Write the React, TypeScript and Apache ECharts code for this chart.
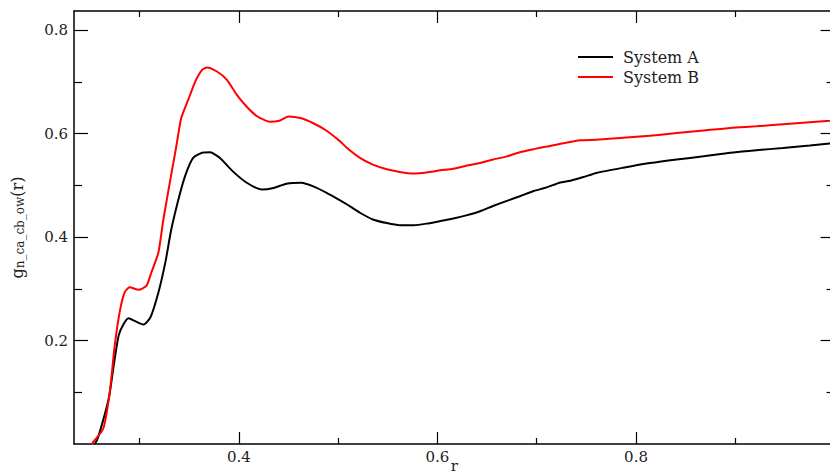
import React, { useEffect, useRef } from "react";
import * as echarts from "echarts";

const seriesNames = ["System A", "System B"];

// System A (black)
const rA = [
  0.255, 0.258, 0.269, 0.274, 0.279, 0.284, 0.289, 0.295, 0.304, 0.311, 0.319, 0.326, 0.332,
  0.341, 0.347, 0.354, 0.363, 0.371, 0.381, 0.394, 0.408, 0.423, 0.435, 0.448, 0.463, 0.475,
  0.488, 0.502, 0.509, 0.522, 0.535, 0.549, 0.562, 0.576, 0.589, 0.603, 0.616, 0.629, 0.643,
  0.656, 0.67, 0.683, 0.697, 0.71, 0.723, 0.734, 0.747, 0.76, 0.787, 0.814, 0.841, 0.868,
  0.895, 0.921, 0.948, 0.975, 0.995, 1.0,
];
const gA = [
  0.0, 0.011, 0.088, 0.152, 0.21, 0.232, 0.243, 0.238, 0.231, 0.245, 0.293, 0.351, 0.415,
  0.486, 0.524, 0.553, 0.563, 0.564, 0.553, 0.527, 0.505, 0.492, 0.495, 0.503, 0.505, 0.498,
  0.486, 0.471, 0.463, 0.447, 0.434, 0.427, 0.423, 0.423, 0.426, 0.431, 0.436, 0.442, 0.45,
  0.46, 0.47, 0.479, 0.489, 0.496, 0.505, 0.509, 0.516, 0.524, 0.534, 0.543, 0.55, 0.556,
  0.563, 0.568, 0.572, 0.577, 0.581, 0.582,
];

// System B (red)
const rB = [
  0.252, 0.2534, 0.2635, 0.27, 0.275, 0.28, 0.285, 0.29, 0.299, 0.307, 0.312, 0.319, 0.324,
  0.331, 0.337, 0.342, 0.349, 0.356, 0.363, 0.368, 0.378, 0.388, 0.398, 0.408, 0.418, 0.431,
  0.441, 0.45, 0.462, 0.475, 0.488, 0.502, 0.509, 0.522, 0.535, 0.549, 0.562, 0.576, 0.589,
  0.603, 0.616, 0.629, 0.643, 0.656, 0.67, 0.683, 0.697, 0.71, 0.723, 0.744, 0.76, 0.787,
  0.814, 0.841, 0.868, 0.895, 0.921, 0.948, 0.975, 0.995, 1.0,
];
const gB = [
  0.0, 0.004, 0.03, 0.1, 0.19, 0.255, 0.293, 0.303, 0.298, 0.306, 0.332, 0.37, 0.434,
  0.511, 0.575, 0.63, 0.665, 0.7, 0.723, 0.728, 0.72, 0.704, 0.675, 0.652, 0.634, 0.623,
  0.625, 0.633, 0.63, 0.62, 0.606, 0.585, 0.572, 0.553, 0.54, 0.531, 0.526, 0.523, 0.525,
  0.529, 0.532, 0.538, 0.543, 0.55, 0.556, 0.564, 0.57, 0.575, 0.58, 0.587, 0.588, 0.592,
  0.596, 0.601, 0.606, 0.611, 0.614, 0.618, 0.622, 0.625, 0.626,
];

const xMajorTicks = [0.4, 0.6, 0.8];
const xMinorTicks = [0.3, 0.5, 0.7, 0.9];
const yMajorTicks = [0.2, 0.4, 0.6, 0.8];
const yMinorTicks = [0.1, 0.3, 0.5, 0.7];
const xRange = [0.234, 1.0];
const yRange = [0, 0.837];

const FONT = "'DejaVu Serif', 'Liberation Serif', serif";
const TXT = "#222";

export default function App() {
  const ref = useRef<HTMLDivElement>(null);

  useEffect(() => {
    if (!ref.current) return;
    const chart = echarts.init(ref.current, undefined, { renderer: "svg" });
    const gridRect = {
      left: 74,
      top: 11,
      width: 760.6,
      height: 433,
      containLabel: false,
      outerBoundsMode: "none",
    };
    const line = { lineStyle: { color: "#000", width: 1.5 } };
    const tickStyle = { color: "#000", width: 1.2 };
    const fmt = (v: number) => v.toFixed(1);

    const mkX = (grid: number, pos: string, major: boolean, labels: boolean) => ({
      type: "value",
      gridIndex: grid,
      position: pos,
      min: xRange[0],
      max: xRange[1],
      axisLine: { show: major, onZero: false, ...line },
      axisTick: {
        show: true,
        inside: true,
        length: major ? 12 : 6,
        customValues: major ? xMajorTicks : xMinorTicks,
        lineStyle: tickStyle,
      },
      axisLabel: labels
        ? {
            show: true,
            customValues: xMajorTicks,
            formatter: fmt,
            margin: 5,
            fontSize: 15,
            fontFamily: FONT,
            color: TXT,
          }
        : { show: false },
      splitLine: { show: false },
    });

    const mkY = (grid: number, pos: string, major: boolean, labels: boolean) => ({
      type: "value",
      gridIndex: grid,
      position: pos,
      min: yRange[0],
      max: yRange[1],
      axisLine: { show: major, onZero: false, ...line },
      axisTick: {
        show: true,
        inside: true,
        length: major ? 14 : 8,
        customValues: major ? yMajorTicks : yMinorTicks,
        lineStyle: tickStyle,
      },
      axisLabel: labels
        ? {
            show: true,
            customValues: yMajorTicks,
            formatter: fmt,
            margin: 6,
            fontSize: 15,
            fontFamily: FONT,
            color: TXT,
          }
        : { show: false },
      splitLine: { show: false },
    });

    const xMain: any = mkX(0, "bottom", true, true);
    xMain.name = "r";
    xMain.nameLocation = "middle";
    xMain.nameGap = 14;
    xMain.nameMoveOverlap = false;
    xMain.nameTextStyle = { fontSize: 15, lineHeight: 15, fontFamily: FONT, color: TXT };

    const yMain: any = mkY(0, "left", true, true);
    yMain.name = "{g|g}{s|n_ca_cb_ow}{g|(r)}";
    yMain.nameLocation = "middle";
    yMain.nameRotate = 90;
    yMain.nameGap = 48;
    yMain.nameMoveOverlap = false;
    yMain.nameTextStyle = {
      fontFamily: FONT,
      color: TXT,
      rich: {
        g: { fontSize: 16, fontFamily: FONT, color: TXT, lineHeight: 17, verticalAlign: "top" },
        s: {
          fontSize: 12,
          fontFamily: FONT,
          color: TXT,
          lineHeight: 12,
          padding: [9, 0, 0, 0],
          verticalAlign: "bottom",
        },
      },
    };

    const option: any = {
      animation: false,
      backgroundColor: "#fff",
      grid: [{ ...gridRect }, { ...gridRect }],
      legend: {
        orient: "vertical",
        left: 573,
        top: 44,
        icon: "rect",
        itemWidth: 35,
        itemHeight: 2,
        itemGap: 4,
        data: seriesNames,
        textStyle: {
          fontSize: 16,
          fontFamily: FONT,
          color: TXT,
          lineHeight: 16,
          padding: [0, 0, 0, 5],
        },
      },
      xAxis: [
        xMain,
        mkX(0, "top", true, false),
        mkX(1, "bottom", false, false),
        mkX(1, "top", false, false),
      ],
      yAxis: [
        yMain,
        mkY(0, "right", true, false),
        mkY(1, "left", false, false),
        mkY(1, "right", false, false),
      ],
      series: [
        {
          name: seriesNames[0],
          type: "line",
          xAxisIndex: 0,
          yAxisIndex: 0,
          showSymbol: false,
          symbol: "none",
          smooth: 0.2,
          color: "#000",
          lineStyle: { color: "#000", width: 2 },
          data: rA.map((r, i) => [r, gA[i]]),
        },
        {
          name: seriesNames[1],
          type: "line",
          xAxisIndex: 0,
          yAxisIndex: 0,
          showSymbol: false,
          symbol: "none",
          smooth: 0.2,
          color: "#ff0000",
          lineStyle: { color: "#ff0000", width: 2 },
          data: rB.map((r, i) => [r, gB[i]]),
        },
      ],
    };
    chart.setOption(option);
    return () => chart.dispose();
  }, []);

  return (
    <div
      ref={ref}
      style={{ position: "fixed", left: 0, top: 0, width: 830, height: 474, background: "#fff" }}
    />
  );
}
